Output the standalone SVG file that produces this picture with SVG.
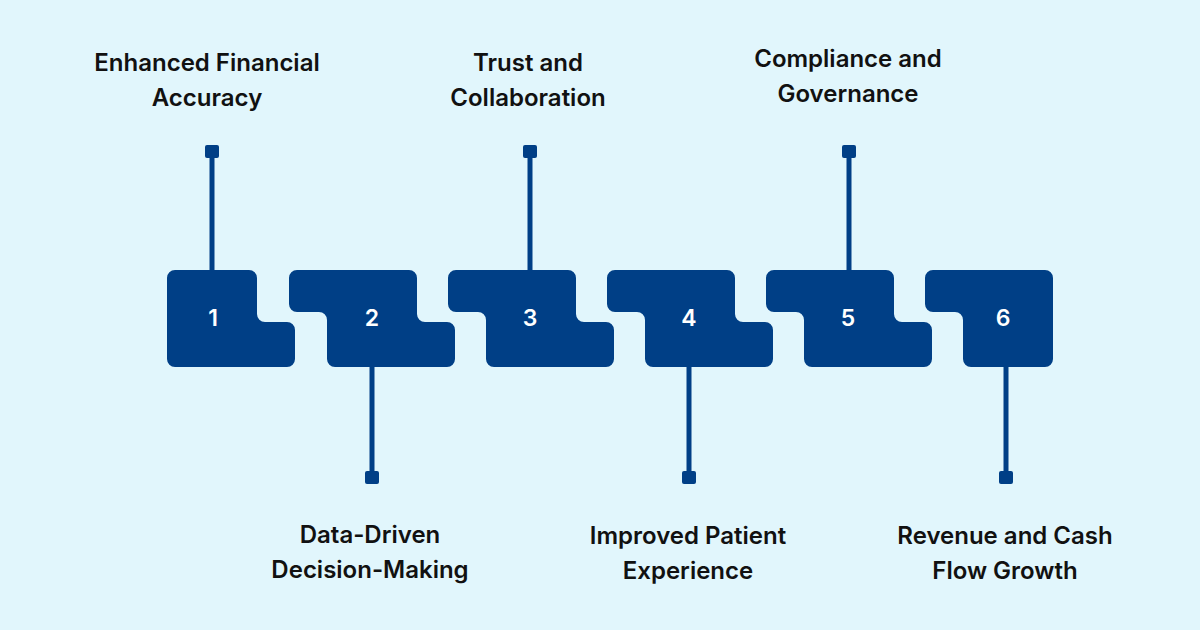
<svg xmlns="http://www.w3.org/2000/svg" width="1200" height="630" viewBox="0 0 1200 630">
<defs>
<style>
.blk{fill:#003f86}
.num{font-family:Inter,"Liberation Sans",sans-serif;font-weight:600;font-size:23px;fill:#ffffff;text-anchor:middle}
.lbl{font-family:Inter,"Liberation Sans",sans-serif;font-weight:600;font-size:24px;fill:#111111;text-anchor:middle}
.ln{stroke:#003f86;stroke-width:5;fill:none}
.dot{fill:#003f86}
</style>
</defs>
<rect width="1200" height="630" fill="#e1f6fc"/>
<g id="connectors">
<line class="ln" x1="212" y1="152" x2="212" y2="272"/>
<rect class="dot" x="205" y="145" width="14" height="13" rx="2"/>
<line class="ln" x1="530" y1="152" x2="530" y2="272"/>
<rect class="dot" x="523" y="145" width="14" height="13" rx="2"/>
<line class="ln" x1="849" y1="152" x2="849" y2="272"/>
<rect class="dot" x="842" y="145" width="14" height="13" rx="2"/>
<line class="ln" x1="372" y1="365" x2="372" y2="477"/>
<rect class="dot" x="365" y="471" width="14" height="13" rx="2"/>
<line class="ln" x1="689" y1="365" x2="689" y2="477"/>
<rect class="dot" x="682" y="471" width="14" height="13" rx="2"/>
<line class="ln" x1="1006" y1="365" x2="1006" y2="477"/>
<rect class="dot" x="999" y="471" width="14" height="13" rx="2"/>
</g>
<g id="node1">
<path class="blk" transform="translate(129,270)" d="M46,0 H120 A8,8 0 0 1 128,8 V44 A8,8 0 0 0 136,52 H158 A8,8 0 0 1 166,60 V89 A8,8 0 0 1 158,97 H46 A8,8 0 0 1 38,89 V8 A8,8 0 0 1 46,0 Z"/>
<text class="num" x="213" y="326">1</text>
<text class="lbl" x="207" y="71">Enhanced Financial</text>
<text class="lbl" x="207" y="106">Accuracy</text>
</g>
<g id="node2">
<path class="blk" transform="translate(289,270)" d="M8,0 H120 A8,8 0 0 1 128,8 V44 A8,8 0 0 0 136,52 H158 A8,8 0 0 1 166,60 V89 A8,8 0 0 1 158,97 H46 A8,8 0 0 1 38,89 V50 A8,8 0 0 0 30,42 H8 A8,8 0 0 1 0,34 V8 A8,8 0 0 1 8,0 Z"/>
<text class="num" x="372" y="326">2</text>
<text class="lbl" x="370" y="543">Data-Driven</text>
<text class="lbl" x="370" y="578">Decision-Making</text>
</g>
<g id="node3">
<path class="blk" transform="translate(448,270)" d="M8,0 H120 A8,8 0 0 1 128,8 V44 A8,8 0 0 0 136,52 H158 A8,8 0 0 1 166,60 V89 A8,8 0 0 1 158,97 H46 A8,8 0 0 1 38,89 V50 A8,8 0 0 0 30,42 H8 A8,8 0 0 1 0,34 V8 A8,8 0 0 1 8,0 Z"/>
<text class="num" x="530" y="326">3</text>
<text class="lbl" x="528" y="71">Trust and</text>
<text class="lbl" x="528" y="106">Collaboration</text>
</g>
<g id="node4">
<path class="blk" transform="translate(607,270)" d="M8,0 H120 A8,8 0 0 1 128,8 V44 A8,8 0 0 0 136,52 H158 A8,8 0 0 1 166,60 V89 A8,8 0 0 1 158,97 H46 A8,8 0 0 1 38,89 V50 A8,8 0 0 0 30,42 H8 A8,8 0 0 1 0,34 V8 A8,8 0 0 1 8,0 Z"/>
<text class="num" x="689" y="326">4</text>
<text class="lbl" x="688" y="544">Improved Patient</text>
<text class="lbl" x="688" y="579">Experience</text>
</g>
<g id="node5">
<path class="blk" transform="translate(766,270)" d="M8,0 H120 A8,8 0 0 1 128,8 V44 A8,8 0 0 0 136,52 H158 A8,8 0 0 1 166,60 V89 A8,8 0 0 1 158,97 H46 A8,8 0 0 1 38,89 V50 A8,8 0 0 0 30,42 H8 A8,8 0 0 1 0,34 V8 A8,8 0 0 1 8,0 Z"/>
<text class="num" x="848" y="326">5</text>
<text class="lbl" x="848" y="67">Compliance and</text>
<text class="lbl" x="848" y="102">Governance</text>
</g>
<g id="node6">
<path class="blk" transform="translate(925,270)" d="M8,0 H120 A8,8 0 0 1 128,8 V89 A8,8 0 0 1 120,97 H46 A8,8 0 0 1 38,89 V50 A8,8 0 0 0 30,42 H8 A8,8 0 0 1 0,34 V8 A8,8 0 0 1 8,0 Z"/>
<text class="num" x="1003" y="326">6</text>
<text class="lbl" x="1005" y="544">Revenue and Cash</text>
<text class="lbl" x="1005" y="579">Flow Growth</text>
</g>
</svg>
